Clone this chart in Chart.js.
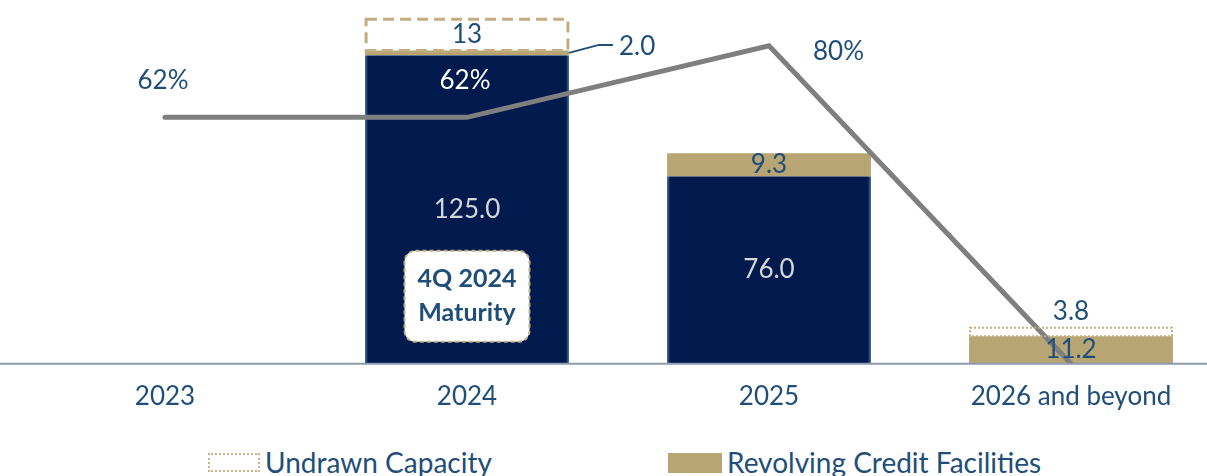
<!DOCTYPE html>
<html>
<head>
<meta charset="utf-8">
<script src="https://cdn.jsdelivr.net/npm/chart.js@4.4.1/dist/chart.umd.min.js"></script>
<style>
  html, body { margin: 0; padding: 0; background: #fff; overflow: hidden; width: 1207px; height: 476px; position: relative; font-family: Lato, "Noto Sans", sans-serif; }
  #wrap { position: absolute; left: -20px; top: 0; width: 1250px; height: 440px; }
  .legend-item { position: absolute; top: 445px; height: 34px; line-height: 34px; font-size: 28px; color: #1F4E79; white-space: nowrap; }
  .legend-item .box { display: inline-block; vertical-align: top; margin-top: 8px; margin-right: 5px; box-sizing: border-box; }
</style>
</head>
<body>
<div id="wrap"><canvas id="chart"></canvas></div>
<div class="legend-item" style="left:208px"><span class="box" style="width:52px;height:19px;border:2px dotted #C9B48A"></span>Undrawn Capacity</div>
<div class="legend-item" style="left:668px"><span class="box" style="width:54px;height:20px;background:#B8A574"></span>Revolving Credit Facilities</div>
<script>
const categories = ['2023', '2024', '2025', '2026 and beyond'];
const termLoans = [null, 125.0, 76.0, null];
const revolvingCredit = [null, 2.0, 9.3, 11.2];
const undrawnCapacity = [null, 13, null, 3.8];
const ltvPercent = [62, 62, 80, 0];

const navy = '#001A4E';
const tan = '#B8A574';
const textBlue = '#1F4E79';

// draws the baseline, dashed undrawn boxes, value labels and the maturity note
const overlayPlugin = {
    id: 'overlay',
    afterDatasetsDraw(chart) {
        const ctx = chart.ctx;
        const termMeta = chart.getDatasetMeta(0);
        const revMeta = chart.getDatasetMeta(1);
        const undrawnMeta = chart.getDatasetMeta(2);
        const lineMeta = chart.getDatasetMeta(3);

        ctx.save();
        // baseline
        ctx.strokeStyle = '#8C9BB0';
        ctx.lineWidth = 2;
        ctx.beginPath();
        ctx.moveTo(0, chart.chartArea.bottom);
        ctx.lineTo(chart.width, chart.chartArea.bottom);
        ctx.stroke();

        // undrawn capacity outlines
        undrawnMeta.data.forEach((el, i) => {
            if (undrawnCapacity[i] == null) return;
            const h = el.base - el.y;
            ctx.strokeStyle = '#C4AE80';
            if (h > 20) {
                ctx.lineWidth = 3;
                ctx.setLineDash([11, 6]);
            } else {
                ctx.lineWidth = 2;
                ctx.setLineDash([2, 2]);
            }
            ctx.strokeRect(el.x - el.width / 2 + 1, el.y + 1, el.width - 2, h - 1);
        });
        ctx.setLineDash([]);

        ctx.textAlign = 'center';
        ctx.textBaseline = 'middle';
        ctx.font = '26px Lato, "Noto Sans", sans-serif';

        // term loan labels
        ctx.fillStyle = '#D6D6D6';
        termMeta.data.forEach((el, i) => {
            if (termLoans[i] == null) return;
            ctx.fillText(termLoans[i].toFixed(1), el.x, (el.y + el.base) / 2);
        });

        // revolving labels
        ctx.fillStyle = textBlue;
        revMeta.data.forEach((el, i) => {
            if (revolvingCredit[i] == null) return;
            const mid = (el.y + el.base) / 2;
            if (el.base - el.y < 15) {
                const r = el.x + el.width / 2;
                ctx.strokeStyle = textBlue;
                ctx.lineWidth = 2;
                ctx.beginPath();
                ctx.moveTo(r, mid);
                ctx.lineTo(r + 30, mid - 8);
                ctx.lineTo(r + 44, mid - 8);
                ctx.stroke();
                ctx.textAlign = 'left';
                ctx.fillText(revolvingCredit[i].toFixed(1), r + 50, mid - 6);
                ctx.textAlign = 'center';
            } else {
                ctx.fillText(revolvingCredit[i].toFixed(1), el.x, mid);
            }
        });

        // undrawn labels
        undrawnMeta.data.forEach((el, i) => {
            if (undrawnCapacity[i] == null) return;
            const h = el.base - el.y;
            const y = h > 20 ? (el.y + el.base) / 2 : el.y - 15;
            ctx.fillText(String(undrawnCapacity[i]), el.x, y);
        });

        // line labels
        lineMeta.data.forEach((pt, i) => {
            if (!ltvPercent[i]) return;
            const label = ltvPercent[i] + '%';
            if (i > 0 && ltvPercent[i] > ltvPercent[i - 1] && i < ltvPercent.length - 1) {
                ctx.fillStyle = textBlue;
                ctx.textAlign = 'left';
                ctx.fillText(label, pt.x + 44, pt.y + 6);
                ctx.textAlign = 'center';
            } else {
                ctx.fillStyle = termLoans[i] != null ? '#FFFFFF' : textBlue;
                ctx.fillText(label, pt.x - 2, pt.y - 37);
            }
        });

        // maturity note on the 2024 bar
        const bar = termMeta.data[1];
        const bw = 125, bh = 91;
        const bx = bar.x - bw / 2, by = bar.base - 113;
        ctx.fillStyle = '#FFFFFF';
        ctx.strokeStyle = '#C4AE80';
        ctx.lineWidth = 2;
        ctx.setLineDash([4, 3]);
        ctx.beginPath();
        ctx.roundRect(bx, by, bw, bh, 11);
        ctx.fill();
        ctx.stroke();
        ctx.setLineDash([]);
        ctx.fillStyle = textBlue;
        ctx.font = 'bold 25px Lato, "Noto Sans", sans-serif';
        ctx.fillText('4Q 2024', bar.x, by + 28);
        ctx.fillText('Maturity', bar.x, by + 62);
        ctx.restore();
    }
};

document.addEventListener('DOMContentLoaded', () => {
    const ctx = document.getElementById('chart').getContext('2d');

    new Chart(ctx, {
        data: {
            labels: categories,
            datasets: [
                {
                    type: 'bar',
                    label: 'Term Loans',
                    data: termLoans,
                    backgroundColor: navy,
                    borderColor: '#1F4E79',
                    borderWidth: { left: 2, right: 2, top: 0, bottom: 0 },
                    borderSkipped: false,
                    stack: 'debt',
                    yAxisID: 'y',
                    order: 1
                },
                {
                    type: 'bar',
                    label: 'Revolving Credit Facilities',
                    data: revolvingCredit,
                    backgroundColor: tan,
                    stack: 'debt',
                    yAxisID: 'y',
                    order: 1
                },
                {
                    type: 'bar',
                    label: 'Undrawn Capacity',
                    data: undrawnCapacity,
                    backgroundColor: 'rgba(255,255,255,0)',
                    stack: 'debt',
                    yAxisID: 'y',
                    order: 1
                },
                {
                    type: 'line',
                    label: 'LTV',
                    data: ltvPercent,
                    borderColor: '#7F7F7F',
                    borderWidth: 5,
                    borderCapStyle: 'round',
                    borderJoinStyle: 'miter',
                    pointRadius: 0,
                    tension: 0,
                    yAxisID: 'y1',
                    order: 0
                }
            ]
        },
        options: {
            responsive: true,
            maintainAspectRatio: false,
            animation: false,
            datasets: {
                bar: { barPercentage: 0.675, categoryPercentage: 1 }
            },
            layout: {
                padding: { left: 34, right: 8, top: 6, bottom: 19 }
            },
            plugins: {
                legend: { display: false },
                tooltip: { enabled: false }
            },
            scales: {
                x: {
                    stacked: true,
                    grid: { display: false },
                    border: { display: false },
                    ticks: {
                        color: textBlue,
                        padding: 9,
                        font: { family: 'Lato, "Noto Sans", sans-serif', size: 26 }
                    }
                },
                y: {
                    stacked: true,
                    display: false,
                    min: 0,
                    max: 145
                },
                y1: {
                    display: false,
                    min: 0,
                    max: 90
                }
            }
        },
        plugins: [overlayPlugin]
    });
});
</script>
</body>
</html>
